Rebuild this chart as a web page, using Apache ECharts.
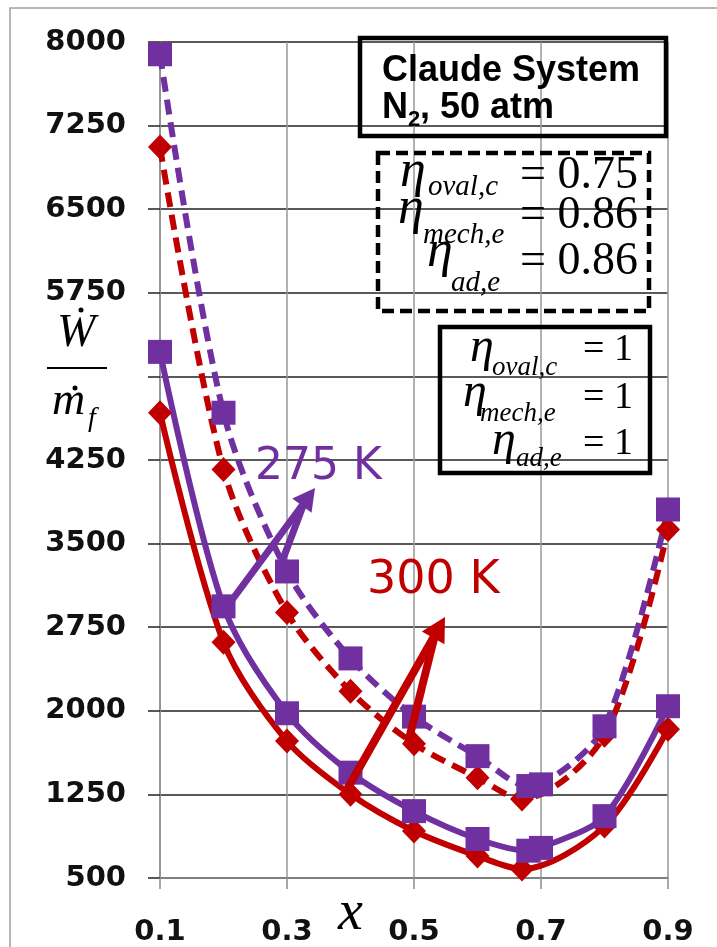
<!DOCTYPE html>
<html>
<head>
<meta charset="utf-8">
<script src="https://cdn.jsdelivr.net/npm/echarts@6/dist/echarts.min.js"></script>
<style>
  html, body { margin: 0; padding: 0; background: #fff; }
  #chart { width: 717px; height: 947px; }
</style>
</head>
<body>
<div id="chart"></div>
<script>
// x positions (the minimum sits between 0.6 and 0.7)
var xPurple = [0.1, 0.2, 0.3, 0.4, 0.5, 0.6, 0.68, 0.7, 0.8, 0.9];
var xRed    = [0.1, 0.2, 0.3, 0.4, 0.5, 0.6, 0.67, 0.8, 0.9];

// W/mf, eta < 1 (dashed) and eta = 1 (solid)
var purpleDashed = [7890, 4674, 3250, 2470, 1948, 1593, 1325, 1340, 1861, 3806];
var redDashed    = [7057, 4164, 2882, 2175, 1705, 1400, 1208, 1780, 3627];
var purpleSolid  = [5220, 2937, 1978, 1445, 1100, 850, 745, 770, 1055, 2041];
var redSolid     = [4674, 2614, 1728, 1251, 922, 698, 581, 966, 1835];

var PURPLE = '#7030A0';
var RED = '#C00000';

function pairs(xs, ys) {
    var out = [];
    for (var i = 0; i < ys.length; i++) out.push([xs[i], ys[i]]);
    return out;
}

// text placed by its baseline
function txt(str, x, base, size, o) {
    o = o || {};
    return {
        type: 'text', x: x, y: base - 0.34 * size, z: 100,
        style: {
            text: str,
            fontFamily: o.family || 'Liberation Serif',
            fontStyle: o.italic ? 'italic' : 'normal',
            fontWeight: o.bold ? 'bold' : 'normal',
            fontSize: size,
            fill: o.color || '#000',
            align: o.align || 'left',
            verticalAlign: 'middle'
        }
    };
}

function box(x, y, w, h, dash) {
    return {
        type: 'rect', z: 90,
        shape: { x: x, y: y, width: w, height: h },
        style: { fill: null, stroke: '#000', lineWidth: 4.5, lineDash: dash || null }
    };
}

function arrow(starts, tip, color, width, len, half) {
    var els = [];
    var a = starts[0];
    var dx = tip[0] - a[0], dy = tip[1] - a[1];
    var d = Math.sqrt(dx * dx + dy * dy);
    dx /= d; dy /= d;
    var bx = tip[0] - len * dx, by = tip[1] - len * dy;
    starts.forEach(function (s) {
        els.push({
            type: 'polyline', z: 95,
            shape: { points: [s, [bx + dx * 4, by + dy * 4]] },
            style: { stroke: color, lineWidth: width, fill: null }
        });
    });
    els.push({
        type: 'polygon', z: 95,
        shape: { points: [tip, [bx - dy * half, by + dx * half], [bx + dy * half, by - dx * half]] },
        style: { fill: color }
    });
    return els;
}

var graphics = [
    { type: 'rect', z: 1, shape: { x: 10, y: 8, width: 760, height: 1000 },
      style: { fill: null, stroke: '#a0a0a0', lineWidth: 1.5 } },

    box(360, 38, 306, 98),
    box(378, 153, 271, 158, [12, 6]),
    box(440, 327, 210, 146),

    txt('Claude System', 382, 83, 36, { family: 'Liberation Sans', bold: true }),
    txt('N', 382, 120, 36, { family: 'Liberation Sans', bold: true }),
    txt('2', 408, 127, 22, { family: 'Liberation Sans', bold: true }),
    txt(', 50 atm', 420, 120, 36, { family: 'Liberation Sans', bold: true }),

    txt('\u03b7', 400, 190, 52, { italic: true }),
    txt('oval,c', 428, 197, 29, { italic: true }),
    txt('= 0.75', 638, 192, 46, { align: 'right' }),
    txt('\u03b7', 398, 227, 52, { italic: true }),
    txt('mech,e', 423, 245, 29, { italic: true }),
    txt('= 0.86', 638, 232, 46, { align: 'right' }),
    txt('\u03b7', 427, 270, 52, { italic: true }),
    txt('ad,e', 451, 293, 29, { italic: true }),
    txt('= 0.86', 638, 278, 46, { align: 'right' }),

    txt('\u03b7', 470, 365, 48, { italic: true }),
    txt('oval,c', 492, 377, 27, { italic: true }),
    txt('= 1', 633, 363, 38, { align: 'right' }),
    txt('\u03b7', 463, 410, 48, { italic: true }),
    txt('mech,e', 480, 423, 27, { italic: true }),
    txt('= 1', 633, 411, 38, { align: 'right' }),
    txt('\u03b7', 492, 458, 48, { italic: true }),
    txt('ad,e', 516, 468, 27, { italic: true }),
    txt('= 1', 633, 457, 38, { align: 'right' }),

    txt('275 K', 255, 483, 44, { family: 'DejaVu Sans', color: PURPLE }),
    txt('300 K', 367, 597, 46, { family: 'DejaVu Sans', color: RED }),

    // y axis name: W-dot over m-dot_f
    txt('W', 57, 350, 46, { italic: true }),
    { type: 'circle', z: 100, shape: { cx: 81, cy: 310, r: 2.5 }, style: { fill: '#000' } },
    { type: 'rect', z: 100, shape: { x: 47, y: 367, width: 60, height: 2 }, style: { fill: '#000' } },
    txt('m', 52, 418, 46, { italic: true }),
    { type: 'circle', z: 100, shape: { cx: 75, cy: 388, r: 2.5 }, style: { fill: '#000' } },
    txt('f', 88, 428, 28, { italic: true }),

    // x axis name
    txt('x', 338, 933, 56, { italic: true })
];

graphics = graphics
    .concat(arrow([[232, 600], [280, 567]], [315, 488], PURPLE, 7, 22, 12))
    .concat(arrow([[345, 793], [408, 743]], [445, 617], RED, 8, 24, 13));

var chart = echarts.init(document.getElementById('chart'));

var option = {
    animation: false,
    grid: { left: 160, right: 49, top: 42, bottom: 68 },
    xAxis: {
        type: 'value', min: 0.1, max: 0.9, interval: 0.2,
        axisLine: { lineStyle: { color: '#8c8c8c', width: 1.5 } },
        axisTick: { show: true, length: 11, lineStyle: { color: '#8c8c8c', width: 1.5 } },
        splitLine: { show: true, lineStyle: { color: '#999', width: 1.5 } },
        axisLabel: {
            formatter: function (v) { return v.toFixed(1); },
            fontFamily: 'DejaVu Sans', fontWeight: 'bold', fontSize: 29, color: '#111', margin: 40
        }
    },
    yAxis: {
        type: 'value', min: 500, max: 8000, interval: 750,
        axisLine: { show: true, lineStyle: { color: '#8c8c8c', width: 1.5 } },
        axisTick: { show: true, length: 12, lineStyle: { color: '#222', width: 1.5 } },
        splitLine: { show: true, lineStyle: { color: '#222', width: 1.5 } },
        axisLabel: {
            formatter: function (v) { return v === 5000 ? '' : String(v); },
            fontFamily: 'DejaVu Sans', fontWeight: 'bold', fontSize: 29, color: '#111', margin: 34
        }
    },
    series: [
        { name: '300 K dashed', type: 'line', smooth: 0.3, data: pairs(xRed, redDashed),
          symbol: 'diamond', symbolSize: [24, 25],
          lineStyle: { color: RED, width: 6, type: [15, 8] }, itemStyle: { color: RED } },
        { name: '275 K dashed', type: 'line', smooth: 0.3, data: pairs(xPurple, purpleDashed),
          symbol: 'rect', symbolSize: 24,
          lineStyle: { color: PURPLE, width: 6, type: [15, 8] }, itemStyle: { color: PURPLE } },
        { name: '300 K', type: 'line', smooth: 0.3, data: pairs(xRed, redSolid),
          symbol: 'diamond', symbolSize: [24, 25],
          lineStyle: { color: RED, width: 6 }, itemStyle: { color: RED } },
        { name: '275 K', type: 'line', smooth: 0.3, data: pairs(xPurple, purpleSolid),
          symbol: 'rect', symbolSize: 24,
          lineStyle: { color: PURPLE, width: 6 }, itemStyle: { color: PURPLE } }
    ],
    graphic: graphics
};

chart.setOption(option);
</script>
</body>
</html>
